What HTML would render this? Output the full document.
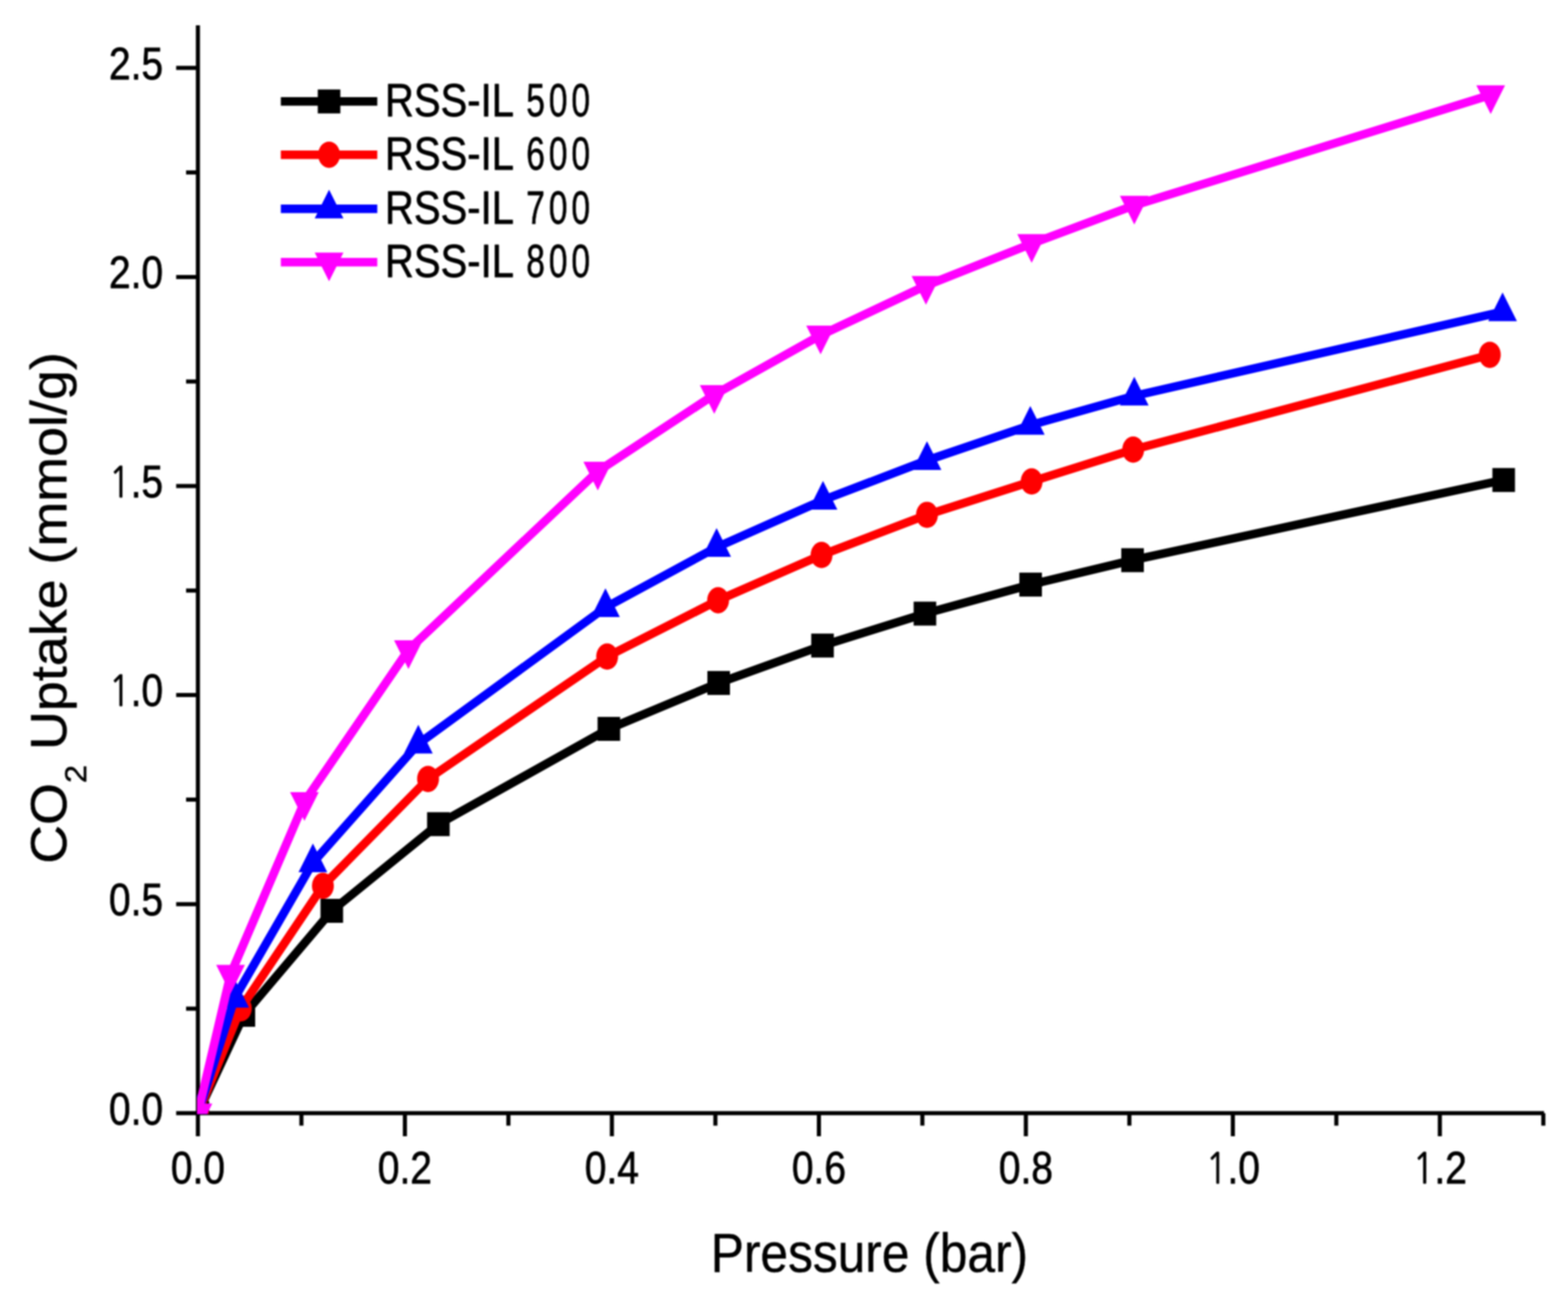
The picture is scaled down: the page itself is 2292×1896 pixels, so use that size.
<!DOCTYPE html>
<html><head><meta charset="utf-8"><title>CO2 Uptake vs Pressure</title>
<style>
html,body{margin:0;padding:0;background:#ffffff;}
svg{display:block;filter:blur(0.9px);}
text{font-family:"Liberation Sans",Arial,sans-serif;fill:#000;stroke:#000;stroke-linejoin:round;stroke-width:0.6px;}
.tk{stroke-width:1px;}
.lg{stroke-width:0.9px;}
</style></head><body>
<svg width="2292" height="1896" viewBox="0 0 2292 1896">
<rect x="0" y="0" width="2292" height="1896" fill="#ffffff"/>
<defs><clipPath id="plot"><rect x="288" y="0" width="2010" height="1628.5"/></clipPath></defs>
<g stroke="#000" stroke-width="6" fill="none">
<line x1="289.3" y1="37" x2="289.3" y2="1630.3" />
<line x1="286.3" y1="1627.3" x2="2257" y2="1627.3" />
<line x1="257.5" y1="1627.3" x2="289.3" y2="1627.3" />
<line x1="272" y1="1474.5" x2="289.3" y2="1474.5" />
<line x1="257.5" y1="1321.7" x2="289.3" y2="1321.7" />
<line x1="272" y1="1168.9" x2="289.3" y2="1168.9" />
<line x1="257.5" y1="1016.1" x2="289.3" y2="1016.1" />
<line x1="272" y1="863.3" x2="289.3" y2="863.3" />
<line x1="257.5" y1="710.5" x2="289.3" y2="710.5" />
<line x1="272" y1="557.7" x2="289.3" y2="557.7" />
<line x1="257.5" y1="404.9" x2="289.3" y2="404.9" />
<line x1="272" y1="252.1" x2="289.3" y2="252.1" />
<line x1="257.5" y1="99.3" x2="289.3" y2="99.3" />
<line x1="289.3" y1="1627.3" x2="289.3" y2="1661" />
<line x1="440.58" y1="1627.3" x2="440.58" y2="1645.5" />
<line x1="591.86" y1="1627.3" x2="591.86" y2="1661" />
<line x1="743.14" y1="1627.3" x2="743.14" y2="1645.5" />
<line x1="894.42" y1="1627.3" x2="894.42" y2="1661" />
<line x1="1045.7" y1="1627.3" x2="1045.7" y2="1645.5" />
<line x1="1196.98" y1="1627.3" x2="1196.98" y2="1661" />
<line x1="1348.26" y1="1627.3" x2="1348.26" y2="1645.5" />
<line x1="1499.54" y1="1627.3" x2="1499.54" y2="1661" />
<line x1="1650.82" y1="1627.3" x2="1650.82" y2="1645.5" />
<line x1="1802.1" y1="1627.3" x2="1802.1" y2="1661" />
<line x1="1953.38" y1="1627.3" x2="1953.38" y2="1645.5" />
<line x1="2104.66" y1="1627.3" x2="2104.66" y2="1661" />
<line x1="2255.94" y1="1627.3" x2="2255.94" y2="1645.5" />
</g>
<text class="tk" transform="translate(238.5,1643.6) scale(0.85,1)" font-size="67" text-anchor="end">0.0</text>
<text class="tk" transform="translate(238.5,1338) scale(0.85,1)" font-size="67" text-anchor="end">0.5</text>
<text class="tk" transform="translate(238.5,1032.4) scale(0.85,1)" font-size="67" text-anchor="end"><tspan font-family="NanumGothic" font-size="61.64">1</tspan>.0</text>
<text class="tk" transform="translate(238.5,726.8) scale(0.85,1)" font-size="67" text-anchor="end"><tspan font-family="NanumGothic" font-size="61.64">1</tspan>.5</text>
<text class="tk" transform="translate(238.5,421.2) scale(0.85,1)" font-size="67" text-anchor="end">2.0</text>
<text class="tk" transform="translate(238.5,115.6) scale(0.85,1)" font-size="67" text-anchor="end">2.5</text>
<text class="tk" transform="translate(289.3,1730) scale(0.85,1)" font-size="67" text-anchor="middle">0.0</text>
<text class="tk" transform="translate(591.86,1730) scale(0.85,1)" font-size="67" text-anchor="middle">0.2</text>
<text class="tk" transform="translate(894.42,1730) scale(0.85,1)" font-size="67" text-anchor="middle">0.4</text>
<text class="tk" transform="translate(1196.98,1730) scale(0.85,1)" font-size="67" text-anchor="middle">0.6</text>
<text class="tk" transform="translate(1499.54,1730) scale(0.85,1)" font-size="67" text-anchor="middle">0.8</text>
<text class="tk" transform="translate(1802.1,1730) scale(0.85,1)" font-size="67" text-anchor="middle"><tspan font-family="NanumGothic" font-size="61.64">1</tspan>.0</text>
<text class="tk" transform="translate(2104.66,1730) scale(0.85,1)" font-size="67" text-anchor="middle"><tspan font-family="NanumGothic" font-size="61.64">1</tspan>.2</text>
<text transform="translate(1039,1858.5) scale(0.913,1)" font-size="79.5">Pressure (bar)</text>
<text transform="translate(97.2,1262.8) rotate(-90) scale(1.066,1)" font-size="73.8">CO<tspan font-size="45" dy="28.8">2</tspan><tspan dy="-28.8"> Uptake (mmol/g)</tspan></text>
<g clip-path="url(#plot)">
<polyline fill="none" stroke="#000000" stroke-width="12.5" stroke-linejoin="miter" points="289.3,1627.3 356.5,1483.5 485,1331.5 640.8,1204.8 890,1065.5 1050.5,998.4 1202.3,943.7 1352,897 1506.5,854.6 1655.5,818.9 2198,701.7"/>
<rect x="272.8" y="1609.8" width="33" height="35" fill="#000000"/><rect x="340" y="1466" width="33" height="35" fill="#000000"/><rect x="468.5" y="1314" width="33" height="35" fill="#000000"/><rect x="624.3" y="1187.3" width="33" height="35" fill="#000000"/><rect x="873.5" y="1048" width="33" height="35" fill="#000000"/><rect x="1034" y="980.9" width="33" height="35" fill="#000000"/><rect x="1185.8" y="926.2" width="33" height="35" fill="#000000"/><rect x="1335.5" y="879.5" width="33" height="35" fill="#000000"/><rect x="1490" y="837.1" width="33" height="35" fill="#000000"/><rect x="1639" y="801.4" width="33" height="35" fill="#000000"/><rect x="2181.5" y="684.2" width="33" height="35" fill="#000000"/>
<polyline fill="none" stroke="#ff0000" stroke-width="12.5" stroke-linejoin="miter" points="289.3,1627.3 352,1474 472,1295 625.7,1138.7 887.5,959.8 1049.7,877.5 1200.9,811.3 1355,752.6 1508,703.8 1656.4,657.3 2177.7,518.7"/>
<ellipse cx="289.3" cy="1627.3" rx="16" ry="19.2" fill="#ff0000"/><ellipse cx="352" cy="1474" rx="16" ry="19.2" fill="#ff0000"/><ellipse cx="472" cy="1295" rx="16" ry="19.2" fill="#ff0000"/><ellipse cx="625.7" cy="1138.7" rx="16" ry="19.2" fill="#ff0000"/><ellipse cx="887.5" cy="959.8" rx="16" ry="19.2" fill="#ff0000"/><ellipse cx="1049.7" cy="877.5" rx="16" ry="19.2" fill="#ff0000"/><ellipse cx="1200.9" cy="811.3" rx="16" ry="19.2" fill="#ff0000"/><ellipse cx="1355" cy="752.6" rx="16" ry="19.2" fill="#ff0000"/><ellipse cx="1508" cy="703.8" rx="16" ry="19.2" fill="#ff0000"/><ellipse cx="1656.4" cy="657.3" rx="16" ry="19.2" fill="#ff0000"/><ellipse cx="2177.7" cy="518.7" rx="16" ry="19.2" fill="#ff0000"/>
<polyline fill="none" stroke="#0000ff" stroke-width="12.5" stroke-linejoin="miter" points="289.3,1627.3 343,1459 457.4,1261 611.5,1087.4 885,888 1047.5,800 1203,731 1355,673 1506,621.6 1658,578.7 2196.4,455.6"/>
<polygon points="289.3,1599.3 310.3,1641.3 268.3,1641.3" fill="#0000ff"/><polygon points="343,1431 364,1473 322,1473" fill="#0000ff"/><polygon points="457.4,1233 478.4,1275 436.4,1275" fill="#0000ff"/><polygon points="611.5,1059.4 632.5,1101.4 590.5,1101.4" fill="#0000ff"/><polygon points="885,860 906,902 864,902" fill="#0000ff"/><polygon points="1047.5,772 1068.5,814 1026.5,814" fill="#0000ff"/><polygon points="1203,703 1224,745 1182,745" fill="#0000ff"/><polygon points="1355,645 1376,687 1334,687" fill="#0000ff"/><polygon points="1506,593.6 1527,635.6 1485,635.6" fill="#0000ff"/><polygon points="1658,550.7 1679,592.7 1637,592.7" fill="#0000ff"/><polygon points="2196.4,427.6 2217.4,469.6 2175.4,469.6" fill="#0000ff"/>
<polyline fill="none" stroke="#ff00ff" stroke-width="12.5" stroke-linejoin="miter" points="289.3,1627.3 337,1424.5 445,1172 597,950 873.8,689 1044,577 1199.5,490 1353.5,417.6 1508,356.3 1658,300.2 2179,138.7"/>
<polygon points="289.3,1655.3 310.3,1613.3 268.3,1613.3" fill="#ff00ff"/><polygon points="337,1452.5 358,1410.5 316,1410.5" fill="#ff00ff"/><polygon points="445,1200 466,1158 424,1158" fill="#ff00ff"/><polygon points="597,978 618,936 576,936" fill="#ff00ff"/><polygon points="873.8,717 894.8,675 852.8,675" fill="#ff00ff"/><polygon points="1044,605 1065,563 1023,563" fill="#ff00ff"/><polygon points="1199.5,518 1220.5,476 1178.5,476" fill="#ff00ff"/><polygon points="1353.5,445.6 1374.5,403.6 1332.5,403.6" fill="#ff00ff"/><polygon points="1508,384.3 1529,342.3 1487,342.3" fill="#ff00ff"/><polygon points="1658,328.2 1679,286.2 1637,286.2" fill="#ff00ff"/><polygon points="2179,166.7 2200,124.7 2158,124.7" fill="#ff00ff"/>
</g>
<line x1="410.5" y1="148.3" x2="551.5" y2="148.3" stroke="#000000" stroke-width="12.5"/><rect x="464.5" y="130.8" width="33" height="35" fill="#000000"/><text class="lg" transform="translate(562.7,169.6) scale(0.86,1)" font-size="68">RSS-IL</text><text class="lg" transform="translate(769.3,169.6) scale(0.72,1)" font-size="68" letter-spacing="8">500</text>
<line x1="410.5" y1="226.2" x2="551.5" y2="226.2" stroke="#ff0000" stroke-width="12.5"/><ellipse cx="481" cy="226.2" rx="16" ry="19.2" fill="#ff0000"/><text class="lg" transform="translate(562.7,247.5) scale(0.86,1)" font-size="68">RSS-IL</text><text class="lg" transform="translate(769.3,247.5) scale(0.72,1)" font-size="68" letter-spacing="8">600</text>
<line x1="410.5" y1="305.2" x2="551.5" y2="305.2" stroke="#0000ff" stroke-width="12.5"/><polygon points="481,277.2 502,319.2 460,319.2" fill="#0000ff"/><text class="lg" transform="translate(562.7,326.5) scale(0.86,1)" font-size="68">RSS-IL</text><text class="lg" transform="translate(769.3,326.5) scale(0.72,1)" font-size="68" letter-spacing="8">700</text>
<line x1="410.5" y1="383.2" x2="551.5" y2="383.2" stroke="#ff00ff" stroke-width="12.5"/><polygon points="481,411.2 502,369.2 460,369.2" fill="#ff00ff"/><text class="lg" transform="translate(562.7,404.5) scale(0.86,1)" font-size="68">RSS-IL</text><text class="lg" transform="translate(769.3,404.5) scale(0.72,1)" font-size="68" letter-spacing="8">800</text>
</svg>
</body></html>
